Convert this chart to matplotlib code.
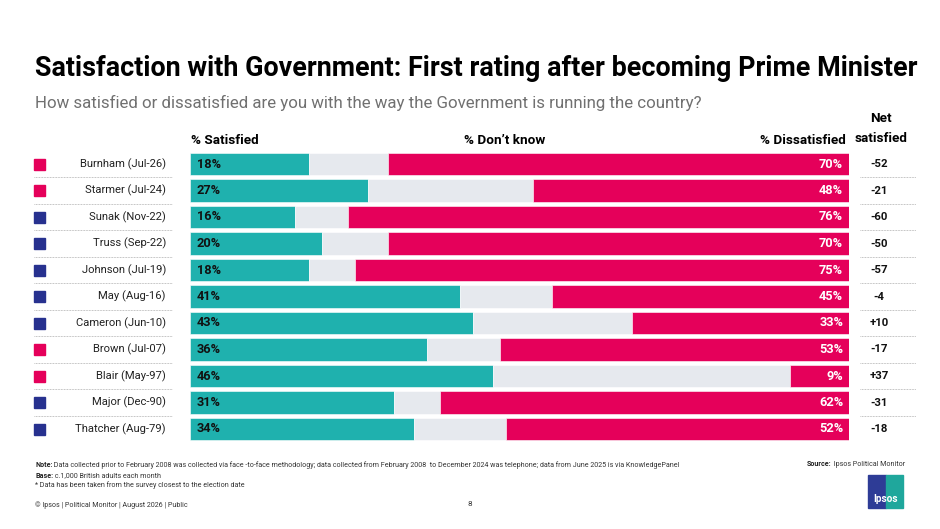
import matplotlib
matplotlib.use("Agg")
import matplotlib.pyplot as plt
from matplotlib.patches import Rectangle

names = ["Burnham (Jul-26)", "Starmer (Jul-24)", "Sunak (Nov-22)", "Truss (Sep-22)",
         "Johnson (Jul-19)", "May (Aug-16)", "Cameron (Jun-10)", "Brown (Jul-07)",
         "Blair (May-97)", "Major (Dec-90)", "Thatcher (Aug-79)"]
satisfied = [18, 27, 16, 20, 18, 41, 43, 36, 46, 31, 34]
dissatisfied = [70, 48, 76, 70, 75, 45, 33, 53, 9, 62, 52]
net = ["-52", "-21", "-60", "-50", "-57", "-4", "+10", "-17", "+37", "-31", "-18"]
party = ["Lab", "Lab", "Con", "Con", "Con", "Con", "Con", "Lab", "Lab", "Con", "Con"]
dont_know = [100 - s - d for s, d in zip(satisfied, dissatisfied)]

TEAL = "#1FB1AE"
GREY = "#E6E9EE"
PINK = "#E5005A"
BLUE = "#27318F"
party_col = {"Lab": PINK, "Con": BLUE}

plt.rcParams['font.family'] = ['Roboto', 'DejaVu Sans']

W, H = 940, 529
fig = plt.figure(figsize=(W / 100, H / 100), dpi=100)
renderer = fig.canvas.get_renderer()

def fx(px):
    return px / W

def fy(py):
    return 1 - py / H

n = len(names)
top_px, bot_px = 150.75, 442.25
ax = fig.add_axes([fx(190), fy(bot_px), fx(849) - fx(190), (bot_px - top_px) / H])
ypos = list(range(n))
bh = 0.86
ax.barh(ypos, satisfied, height=bh, color=TEAL, edgecolor="white", linewidth=0.4)
ax.barh(ypos, dont_know, left=satisfied, height=bh, color=GREY, edgecolor="white", linewidth=0.4)
lefts = [s + k for s, k in zip(satisfied, dont_know)]
ax.barh(ypos, dissatisfied, left=lefts, height=bh, color=PINK, edgecolor="white", linewidth=0.4)
ax.set_xlim(0, 100)
ax.set_ylim(n - 0.5, -0.5)
ax.axis("off")

for i in range(n):
    ax.text(1.0, i, f"{satisfied[i]}%", ha="left", va="center", fontsize=9.2,
            fontweight="bold", color="#111111")
    ax.text(99.1, i, f"{dissatisfied[i]}%", ha="right", va="center", fontsize=9.2,
            fontweight="bold", color="white")

row_h = (bot_px - top_px) / n
for i in range(n):
    cy = top_px + row_h * (i + 0.5)
    fig.text(fx(166), fy(cy), names[i], ha="right", va="center", fontsize=8.1, color="#222222")
    fig.patches.append(Rectangle((fx(34), fy(cy + 5.5)), fx(11), 11 / H,
                                 transform=fig.transFigure, color=party_col[party[i]]))
    fig.text(fx(879), fy(cy), net[i], ha="center", va="center", fontsize=8.2,
             fontweight="bold", color="#111111")
    if i < n - 1:
        yb = fy(top_px + row_h * (i + 1))
        for x0, x1 in ((34, 172), (860, 916)):
            fig.add_artist(plt.Line2D([fx(x0), fx(x1)], [yb, yb], transform=fig.transFigure,
                                      color="#B5B5B5", linewidth=0.7, linestyle=(0, (0.8, 0.8))))

fig.text(fx(35), fy(68), "Satisfaction with Government: First rating after becoming Prime Minister",
         ha="left", va="center", fontsize=19.4, fontweight="bold", color="black")
fig.text(fx(35), fy(103), "How satisfied or dissatisfied are you with the way the Government is running the country?",
         ha="left", va="center", fontsize=12.2, color="#707070")
hfs = 9.7
fig.text(fx(191), fy(140), "% Satisfied", ha="left", va="center", fontsize=hfs, fontweight="bold")
fig.text(fx(505), fy(140), "% Don\u2019t know", ha="center", va="center", fontsize=hfs, fontweight="bold")
fig.text(fx(846), fy(140), "% Dissatisfied", ha="right", va="center", fontsize=hfs, fontweight="bold")
fig.text(fx(881), fy(119), "Net", ha="center", va="center", fontsize=hfs, fontweight="bold")
fig.text(fx(881), fy(138), "satisfied", ha="center", va="center", fontsize=hfs, fontweight="bold")

fs = 5.15
def two_part(xpx, ypx, bold, rest, ha="left"):
    if ha == "left":
        t1 = fig.text(fx(xpx), fy(ypx), bold, ha="left", va="center", fontsize=fs,
                      fontweight="bold", color="#222222")
        bb = t1.get_window_extent(renderer)
        fig.text(bb.x1 / W, fy(ypx), rest, ha="left", va="center", fontsize=fs, color="#333333")
    else:
        t2 = fig.text(fx(xpx), fy(ypx), rest, ha="right", va="center", fontsize=fs, color="#333333")
        bb = t2.get_window_extent(renderer)
        fig.text(bb.x0 / W, fy(ypx), bold, ha="right", va="center", fontsize=fs,
                 fontweight="bold", color="#222222")

two_part(35, 465, "Note:", " Data collected prior to February 2008 was collected via face -to-face methodology; data collected from February 2008  to December 2024 was telephone; data from June 2025 is via KnowledgePanel")
two_part(35, 476, "Base:", " c.1,000 British adults each month")
fig.text(fx(35), fy(485), "* Data has been taken from the survey closest to the election date",
         ha="left", va="center", fontsize=fs, color="#333333")
two_part(905, 464, "Source:", " Ipsos Political Monitor", ha="right")
fig.text(fx(35), fy(505), "\u00a9 Ipsos | Political Monitor | August 2026 | Public",
         ha="left", va="center", fontsize=fs, color="#333333")
fig.text(fx(470), fy(504), "8", ha="center", va="center", fontsize=5.8, color="#333333")

lx0, lx1, ly0, ly1 = 868, 903, 475, 508
mid = 886
fig.patches.append(Rectangle((fx(lx0), fy(ly1)), fx(mid - lx0), (ly1 - ly0) / H,
                             transform=fig.transFigure, color="#2E3C96"))
fig.patches.append(Rectangle((fx(mid), fy(ly1)), fx(lx1 - mid), (ly1 - ly0) / H,
                             transform=fig.transFigure, color="#1FA79C"))
fig.text(fx((lx0 + lx1) / 2), fy(499), "Ipsos", ha="center", va="center", fontsize=7.2,
         fontweight="bold", color="white")

fig.savefig("out.png", dpi=100)
